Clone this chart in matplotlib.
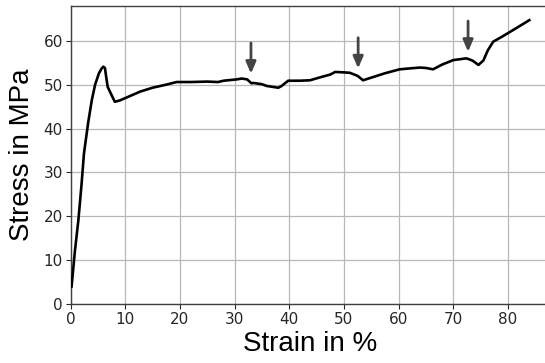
import matplotlib
matplotlib.use("Agg")
import matplotlib.pyplot as plt

strain = [0.2, 0.8, 1.43, 2.0, 2.47, 3.25, 3.9, 4.5, 5.2, 5.7, 6.0, 6.3, 6.5, 6.8, 7.1, 8.1,
          9.0, 10.5, 12.7, 15.0, 17.5, 19.4, 22.0, 25.0, 27.0, 28.0, 30.4, 31.3, 32.3,
          33.1, 33.4, 35.0, 35.9, 38.0, 38.6, 39.8, 42.0, 43.8, 46.0, 47.5, 48.4, 50.0,
          51.1, 52.5, 53.5, 55.0, 57.5, 60.2, 62.0, 63.9, 65.0, 66.3, 68.0, 70.0, 72.4,
          73.5, 74.6, 75.5, 76.3, 77.3, 79.0, 81.0, 83.9]
stress = [4.0, 12.0, 19.0, 27.0, 34.4, 41.5, 46.5, 50.0, 52.6, 53.7, 54.1, 53.8, 52.0, 49.5, 48.7, 46.1,
          46.4, 47.2, 48.4, 49.3, 50.0, 50.6, 50.6, 50.7, 50.6, 50.9, 51.2, 51.4, 51.2,
          50.3, 50.4, 50.1, 49.7, 49.3, 49.7, 50.9, 50.9, 51.0, 51.8, 52.3, 52.9, 52.8,
          52.7, 52.0, 51.0, 51.6, 52.6, 53.5, 53.7, 53.9, 53.8, 53.5, 54.6, 55.6, 56.0,
          55.5, 54.5, 55.5, 57.8, 59.8, 61.0, 62.5, 64.7]

arrow_x = [33.0, 52.6, 72.7]
arrow_top = [59.5, 60.7, 64.5]
arrow_tip = [52.5, 53.7, 57.5]

xticks = [0, 10, 20, 30, 40, 50, 60, 70, 80]
yticks = [0, 10, 20, 30, 40, 50, 60]

fig = plt.figure(figsize=(5.45, 3.63), dpi=100)
ax = fig.add_axes([70.5 / 545, 59 / 363, (549 - 70.5) / 545, (304 - 5.7) / 363])

ax.plot(strain, stress, color="black", lw=1.9, zorder=3)

for x, t, b in zip(arrow_x, arrow_top, arrow_tip):
    ax.annotate("", xy=(x, b), xytext=(x, t),
                arrowprops=dict(arrowstyle="-|>,head_width=0.3,head_length=0.7",
                                lw=2, color="#444444", shrinkA=0, shrinkB=0),
                zorder=4)

ax.set_xlim(0, 87.5)
ax.set_ylim(0, 68)
ax.set_xticks(xticks)
ax.set_yticks(yticks)
ax.grid(True, color="#b8b8b8", lw=0.9)
ax.set_axisbelow(True)

for s in ax.spines.values():
    s.set_color("#404040")
    s.set_linewidth(1.0)

ax.tick_params(axis="both", labelsize=11, colors="#262626", length=3.5, width=0.8, pad=2)

ax.set_xlabel("Strain in %", fontsize=20, family="Liberation Sans", labelpad=3)
ax.set_ylabel("Stress in MPa", fontsize=20, family="Liberation Sans", labelpad=6)

fig.savefig("out.png", dpi=100)
